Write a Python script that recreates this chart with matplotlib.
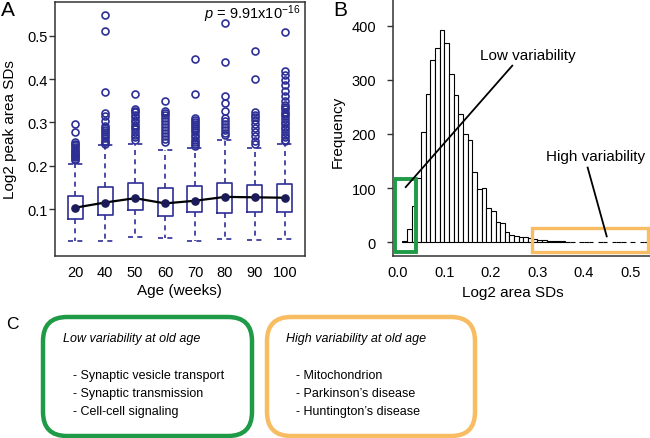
import matplotlib
matplotlib.use('Agg')
import matplotlib.pyplot as plt
import numpy as np
from matplotlib.patches import FancyBboxPatch, Rectangle

plt.rcParams['font.family'] = ['Liberation Sans', 'DejaVu Sans']
plt.rcParams['mathtext.fontset'] = 'custom'
plt.rcParams['mathtext.rm'] = 'Liberation Sans'
plt.rcParams['mathtext.it'] = 'Liberation Sans:italic'

# ---------------- data ----------------
ages = ['20', '40', '50', '60', '70', '80', '90', '100']
medians = [0.103, 0.115, 0.125, 0.113, 0.119, 0.128, 0.127, 0.126]
q1 = [0.077, 0.086, 0.098, 0.083, 0.092, 0.091, 0.092, 0.092]
q3 = [0.129, 0.150, 0.159, 0.148, 0.152, 0.161, 0.155, 0.158]
whislo = [0.027, 0.027, 0.035, 0.032, 0.027, 0.031, 0.028, 0.031]
whishi = [0.204, 0.248, 0.250, 0.237, 0.240, 0.260, 0.241, 0.250]
outliers = [
    [0.296, 0.277, 0.255, 0.251, 0.247, 0.243, 0.239, 0.235, 0.231, 0.228,
     0.225, 0.222, 0.219, 0.216, 0.213],
    [0.549, 0.510, 0.371, 0.322, 0.314, 0.304, 0.292, 0.288, 0.283, 0.278,
     0.273, 0.268, 0.263, 0.258, 0.254, 0.251],
    [0.366, 0.330, 0.327, 0.323, 0.318, 0.312, 0.306, 0.300, 0.295, 0.290,
     0.284, 0.278, 0.272, 0.266, 0.260],
    [0.349, 0.327, 0.322, 0.316, 0.310, 0.303, 0.296, 0.289, 0.282, 0.275,
     0.268, 0.261, 0.255],
    [0.446, 0.366, 0.309, 0.306, 0.302, 0.297, 0.292, 0.287, 0.282, 0.277,
     0.272, 0.266, 0.260, 0.255, 0.250, 0.246],
    [0.530, 0.439, 0.362, 0.345, 0.327, 0.309, 0.303, 0.296, 0.289, 0.282,
     0.276, 0.270],
    [0.464, 0.400, 0.323, 0.318, 0.312, 0.305, 0.296, 0.287, 0.278, 0.268,
     0.258, 0.250],
    [0.509, 0.419, 0.409, 0.399, 0.386, 0.372, 0.360, 0.350, 0.340, 0.335,
     0.330, 0.325, 0.320, 0.314, 0.308, 0.302, 0.296, 0.290, 0.284, 0.278,
     0.272, 0.266, 0.260, 0.256],
]
p_text = r'$p$ = 9.91x10$^{-16}$'

hist_start = 0.01
hist_width = 0.01
hist_counts = [2, 25, 68, 118, 204, 274, 337, 358, 392, 368,
               311, 272, 237, 200, 188, 129, 98, 100, 63, 58,
               37, 36, 20, 13, 11, 10, 9, 8, 7, 5,
               4, 2, 2, 2, 3, 1, 1, 0, 1, 1,
               1, 0, 1, 1, 0, 1, 1, 1, 0, 1,
               0, 1, 1]

low_terms = ['- Synaptic vesicle transport', '- Synaptic transmission', '- Cell-cell signaling']
high_terms = ['- Mitochondrion', "- Parkinson\u2019s disease", "- Huntington\u2019s disease"]

# ---------------- figure ----------------
W, H = 650, 439
fig = plt.figure(figsize=(W / 100, H / 100), dpi=100)

def px_axes(l, t, r, b):
    return fig.add_axes([l / W, 1 - b / H, (r - l) / W, (b - t) / H])

blue = '#2e2f95'
dark = '#1b1b5a'
green = '#1f9a46'
orange = '#f8bc62'
spine_c = '#333333'
tick_fs = 10.5
lab_fs = 11

# overlay axes for panel C (pixel coordinates)
axC = fig.add_axes([0, 0, 1, 1])
axC.set_xlim(0, W)
axC.set_ylim(H, 0)
axC.axis('off')
axC.patch.set_alpha(0)

# ---------------- Panel A ----------------
axA = px_axes(55, 3, 305, 257)
positions = np.arange(1, len(ages) + 1)
stats = []
for i in range(len(ages)):
    stats.append(dict(med=medians[i], q1=q1[i], q3=q3[i], whislo=whislo[i],
                      whishi=whishi[i], fliers=np.array(outliers[i])))
dash = (0, (3, 2.6))
axA.bxp(stats, positions=positions, widths=0.5, capwidths=0.5,
        boxprops=dict(color=blue, lw=1.2),
        whiskerprops=dict(color=blue, lw=1.2, linestyle=dash),
        capprops=dict(color=blue, lw=1.2, linestyle=dash),
        medianprops=dict(lw=0, alpha=0),
        flierprops=dict(marker='o', markerfacecolor='none', markeredgecolor=blue,
                        markersize=5, markeredgewidth=1.2))
axA.plot(positions, medians, color='black', lw=1.6, marker='o', ms=5.2,
         mfc=dark, mec=dark, zorder=5)
axA.set_xlim(0.33, 8.67)
axA.set_ylim(-0.0085, 0.578)
axA.set_xticks(positions)
axA.set_xticklabels(ages)
axA.set_yticks([0.1, 0.2, 0.3, 0.4, 0.5])
axA.set_yticklabels(['0.1', '0.2', '0.3', '0.4', '0.5'])
axA.tick_params(axis='x', length=0, pad=6.5, labelsize=tick_fs)
axA.tick_params(axis='y', length=4, width=1, pad=1.5, labelsize=tick_fs, color=spine_c)
for s in axA.spines.values():
    s.set_color(spine_c)
    s.set_linewidth(1.1)
axA.set_ylabel('Log2 peak area SDs', fontsize=lab_fs)
axA.yaxis.set_label_coords(-0.153, 0.5)
axA.set_xlabel('Age (weeks)', fontsize=lab_fs)
axA.xaxis.set_label_coords(0.496, -0.108)
axA.text(8.5, 0.553, p_text, ha='right', va='center', fontsize=10.5)

# ---------------- Panel B ----------------
axB = px_axes(392.7, 0, 650, 256.7)
left_edges = hist_start + hist_width * np.arange(len(hist_counts))
counts = np.array(hist_counts)
mask = counts > 0
axB.bar(left_edges[mask], counts[mask], width=hist_width, align='edge',
        facecolor='white', edgecolor='black', lw=0.8)
axB.set_xlim(-0.011, 0.542)
axB.set_ylim(-24.6, 449)
axB.spines['top'].set_visible(False)
axB.spines['right'].set_visible(False)
for s in ['left', 'bottom']:
    axB.spines[s].set_color(spine_c)
    axB.spines[s].set_linewidth(1.1)
axB.set_xticks([0.0, 0.1, 0.2, 0.3, 0.4, 0.5])
axB.set_xticklabels(['0.0', '0.1', '0.2', '0.3', '0.4', '0.5'])
axB.set_yticks([0, 100, 200, 300, 400])
axB.tick_params(axis='x', length=0, pad=6.5, labelsize=tick_fs)
axB.tick_params(axis='y', length=4, width=1, pad=8, labelsize=tick_fs, color=spine_c)
axB.set_ylabel('Frequency', fontsize=lab_fs)
axB.yaxis.set_label_coords(-0.185, 0.487)
axB.set_xlabel('Log2 area SDs', fontsize=lab_fs)
axB.xaxis.set_label_coords(0.468, -0.115)

axB.add_patch(Rectangle((-0.0065, -18.5), 0.0465, 135.5, fill=False,
                        ec=green, lw=2.8, clip_on=False, zorder=6))
axB.add_patch(Rectangle((0.2875, -18.5), 0.2505, 44.5, fill=False,
                        ec=orange, lw=2.4, clip_on=False, zorder=6))
axB.plot([0.246, 0.017], [326, 102], color='black', lw=1.3, zorder=7)
axB.plot([0.408, 0.449], [138, 11], color='black', lw=1.3, zorder=7)
axB.text(0.28, 345, 'Low variability', ha='center', va='center', fontsize=lab_fs)
axB.text(0.424, 160, 'High variability', ha='center', va='center', fontsize=lab_fs)

# ---------------- Panel C ----------------
axC.add_patch(FancyBboxPatch((43, 318), 209, 119,
                             boxstyle='round,pad=0,rounding_size=24',
                             fill=False, ec=green, lw=3.2))
axC.add_patch(FancyBboxPatch((267, 318), 208, 119,
                             boxstyle='round,pad=0,rounding_size=24',
                             fill=False, ec=orange, lw=3.2))
c_fs = 9
axC.text(63, 339, 'Low variability at old age', style='italic', fontsize=c_fs,
         ha='left', va='center')
axC.text(286, 339, 'High variability at old age', style='italic', fontsize=c_fs,
         ha='left', va='center')
for k, (a, b) in enumerate(zip(low_terms, high_terms)):
    y = 376 + 17.8 * k
    axC.text(72.7, y, a, fontsize=c_fs, ha='left', va='center')
    axC.text(296, y, b, fontsize=c_fs, ha='left', va='center')

# panel letters
axC.text(1, 1, 'A', fontsize=15, ha='left', va='top')
axC.text(333, 1, 'B', fontsize=15, ha='left', va='top')
axC.text(6, 317, 'C', fontsize=12.5, ha='left', va='top')

fig.savefig('out.png', dpi=100)
